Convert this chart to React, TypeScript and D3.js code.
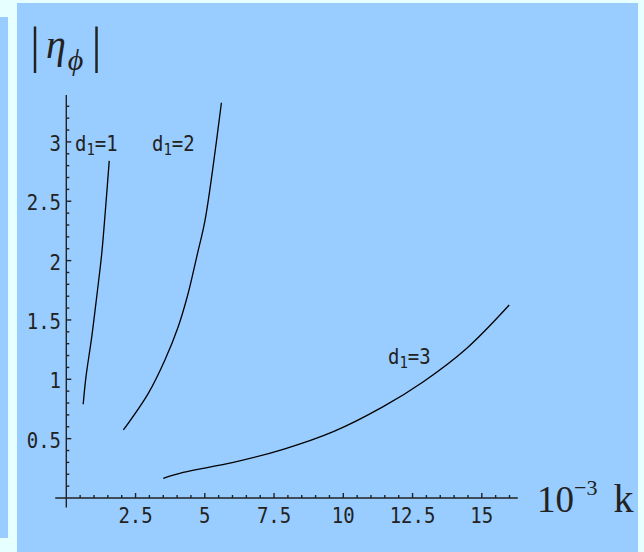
import * as d3 from 'd3'
import { useEffect, useRef } from 'react'

// curve d1=1
const k1 = [0.61, 0.71, 0.92, 1.10, 1.28, 1.42, 1.55]
const eta1 = [0.79, 1.02, 1.36, 1.70, 2.06, 2.45, 2.84]
// curve d1=2
const k2 = [2.06, 2.96, 3.56, 4.04, 4.40, 4.71, 5.01, 5.28, 5.60]
const eta2 = [0.573, 0.882, 1.163, 1.443, 1.725, 2.033, 2.342, 2.76, 3.33]
// curve d1=3
const k3 = [3.50, 4.22, 6.03, 7.83, 9.64, 11.44, 12.89, 14.45, 15.99]
const eta3 = [0.166, 0.216, 0.30, 0.41, 0.559, 0.77, 0.98, 1.26, 1.626]

const xTickLabels = ['2.5', '5', '7.5', '10', '12.5', '15']
const yTickLabels = ['0.5', '1', '1.5', '2', '2.5', '3']
const curveLabels = ['1', '2', '3']

const W = 644, H = 552
const ink = '#222'
const mono = '"DejaVu Sans Mono", monospace'
const serif = '"Liberation Serif", "DejaVu Serif", serif'

// mono text a bit taller than it is wide, like the original
function monoText(sel: d3.Selection<any, any, any, any>, xx: number, yy: number, anchor: string) {
    return sel.append('text')
        .attr('transform', `translate(${xx},${yy}) scale(1,1.12)`)
        .attr('text-anchor', anchor).attr('font-family', mono).attr('font-size', 19)
        .attr('fill', ink)
}

function drawChart(el: SVGSVGElement) {
    const svg = d3.select(el)
    svg.selectAll('*').remove()

    // backdrop
    svg.append('rect').attr('width', W).attr('height', H).attr('fill', '#e6ffff')
    svg.append('rect').attr('x', 0).attr('y', 17).attr('width', 8).attr('height', 521).attr('fill', '#99ccff')
    svg.append('rect').attr('x', 17).attr('y', 3).attr('width', 621).attr('height', H - 3).attr('fill', '#99ccff')

    const x = d3.scaleLinear().domain([0, 10]).range([66.3, 343.3])
    const y = d3.scaleLinear().domain([0, 1]).range([498, 379.3])

    // axes
    const g = svg.append('g').attr('stroke', ink).attr('stroke-width', 1.4)
    g.append('line').attr('x1', x(-0.4)).attr('x2', x(16.3)).attr('y1', y(0)).attr('y2', y(0))
    g.append('line').attr('x1', x(0)).attr('x2', x(0)).attr('y1', y(-0.08)).attr('y2', y(3.395))

    const xt = d3.range(1, 33).map(i => i * 0.5)
    g.selectAll('.xt').data(xt).enter().append('line')
        .attr('x1', d => x(d)).attr('x2', d => x(d))
        .attr('y1', y(0)).attr('y2', (d, i) => y(0) - ((i + 1) % 5 === 0 ? 5 : 3))
    const yt = d3.range(1, 34).map(i => i / 10)
    g.selectAll('.yt').data(yt).enter().append('line')
        .attr('y1', d => y(d)).attr('y2', d => y(d))
        .attr('x1', x(0)).attr('x2', (d, i) => x(0) + ((i + 1) % 5 === 0 ? 5 : 3))

    xTickLabels.forEach(d => monoText(svg, x(+d), 523, 'middle').text(d))
    yTickLabels.forEach(d => monoText(svg, 61, y(+d) + 9, 'end').text(d))

    // curves
    const line = d3.line<[number, number]>().x(d => x(d[0])).y(d => y(d[1])).curve(d3.curveCatmullRom)
    const series = [d3.zip(k1, eta1), d3.zip(k2, eta2), d3.zip(k3, eta3)] as [number, number][][]
    svg.selectAll('.crv').data(series).enter().append('path')
        .attr('d', d => line(d)).attr('fill', 'none').attr('stroke', '#000').attr('stroke-width', 1.3)

    // curve labels
    const labPos = [[75, 151], [152, 151], [388, 364]]
    curveLabels.forEach((v, i) => {
        const t = monoText(svg, labPos[i][0], labPos[i][1], 'start')
        t.append('tspan').text('d')
        t.append('tspan').attr('font-size', 14).attr('dy', 4).text('1')
        t.append('tspan').attr('dy', -4).text('=' + v)
    })

    // axis titles
    const yt1 = svg.append('text').attr('x', 30).attr('y', 62).attr('font-family', serif)
        .attr('font-size', 50).attr('fill', ink)
    yt1.append('tspan').text('|')
    yt1.append('tspan').attr('dx', 6).attr('font-style', 'italic').attr('font-size', 40).attr('dy', -4).text('η')
    yt1.append('tspan').attr('dy', 12).attr('dx', 2).attr('font-style', 'italic').attr('font-size', 30).text('ϕ')
    yt1.append('tspan').attr('dy', -8).attr('dx', 8).text('|')

    const xt1 = svg.append('text').attr('x', 537).attr('y', 512).attr('font-family', serif)
        .attr('font-size', 37).attr('fill', ink)
    xt1.append('tspan').text('10')
    xt1.append('tspan').attr('dy', -17).attr('font-size', 22).text('−3')
    xt1.append('tspan').attr('dy', 17).attr('dx', 16).attr('font-size', 40).text('k')
}

export default function App() {
    const ref = useRef<SVGSVGElement>(null)
    useEffect(() => {
        if (ref.current) drawChart(ref.current)
    }, [])
    return (
        <svg ref={ref} width={W} height={H}
             style={{ position: 'absolute', left: 0, top: 0, display: 'block' }} />
    )
}
